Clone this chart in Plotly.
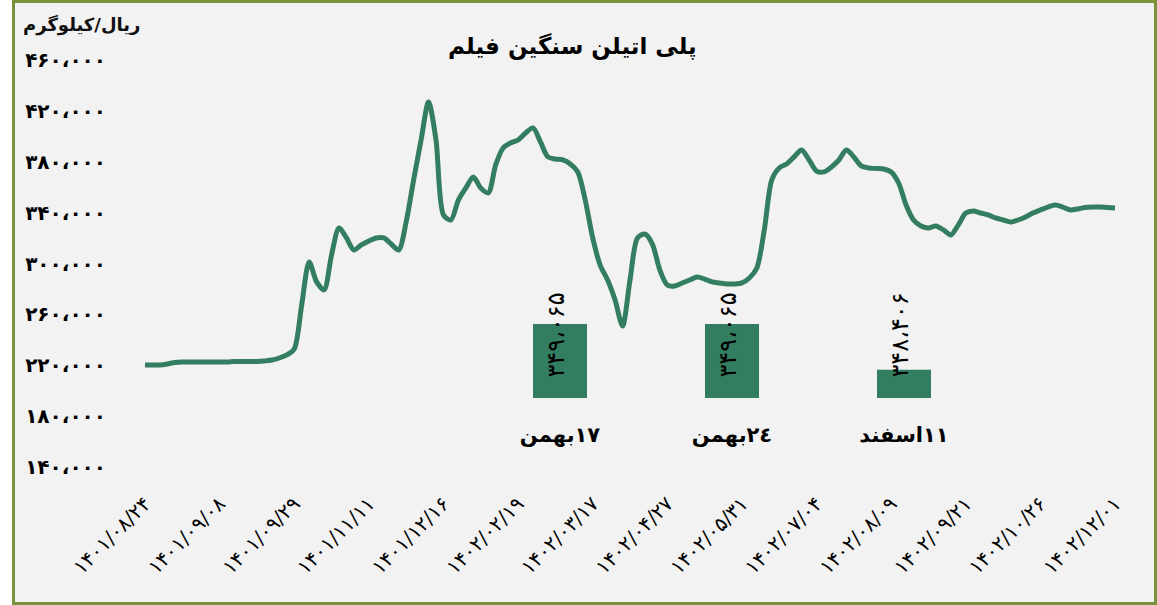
import plotly.graph_objects as go

# ---------------- data ----------------
price = [
    220200, 220200, 220200, 221000, 222200, 222600, 222600, 222600, 222600, 222600,
    222600, 222600, 223000, 223000, 223000, 223000, 223400, 224100, 225700, 228100,
    232800, 267400, 301200, 285500, 279200, 306700, 327900, 320100, 310600, 314600,
    317700, 320100, 320100, 315300, 310600, 332600, 365700, 397100, 427000, 397100,
    338200, 334200, 349900, 359400, 368000, 359400, 355500, 377500, 390800, 394800,
    397100, 402600, 406600, 395600, 383800, 382200, 381400, 378300, 372000, 349900,
    320100, 298800, 287000, 271300, 250900, 287000, 320100, 323200, 315300, 294900,
    283100, 282300, 284700, 287000, 289400, 287800, 285500, 284700, 283900, 283900,
    284700, 288600, 296500, 326400, 365700, 375100, 378300, 383800, 389300, 381400,
    372700, 372000, 375900, 381400, 389300, 383800, 376700, 375100, 374700, 374300,
    372000, 363300, 346000, 334200, 329500, 327900, 329500, 326400, 322400, 330300,
    339700, 341300, 339700, 338200, 335800, 334200, 332600, 334200, 336600, 339700,
    342100, 344400, 346000, 344400, 342100, 342900, 344000, 344400, 344400, 344000,
    343700,
]
point_index = list(range(len(price)))

date_labels = [
    "۱۴۰۱/۰۸/۲۴", "۱۴۰۱/۰۹/۰۸", "۱۴۰۱/۰۹/۲۹", "۱۴۰۱/۱۱/۱۱", "۱۴۰۱/۱۲/۱۶",
    "۱۴۰۲/۰۲/۱۹", "۱۴۰۲/۰۳/۱۷", "۱۴۰۲/۰۴/۲۷", "۱۴۰۲/۰۵/۳۱", "۱۴۰۲/۰۷/۰۴",
    "۱۴۰۲/۰۸/۰۹", "۱۴۰۲/۰۹/۲۱", "۱۴۰۲/۱۰/۲۶", "۱۴۰۲/۱۲/۰۱",
]
date_label_index = [0, 10, 20, 30, 40, 50, 60, 70, 80, 90, 100, 110, 120, 130]

y_tick_values = [140000, 180000, 220000, 260000, 300000, 340000, 380000, 420000, 460000]
y_tick_text = ["۱۴۰،۰۰۰", "۱۸۰،۰۰۰", "۲۲۰،۰۰۰", "۲۶۰،۰۰۰", "۳۰۰،۰۰۰",
               "۳۴۰،۰۰۰", "۳۸۰،۰۰۰", "۴۲۰،۰۰۰", "۴۶۰،۰۰۰"]

bar_categories = ["۱۷بهمن", "٢٤بهمن", "۱۱اسفند"]
bar_values = [349065, 349065, 348406]

title_text = "پلی اتیلن سنگین فیلم"
unit_text = "ریال/کیلوگرم"

# ---------------- helpers ----------------
FA = str.maketrans("0123456789", "۰۱۲۳۴۵۶۷۸۹")


def fa_num(v):
    return f"{v:,}".replace(",", "،").translate(FA)


RLM = "\u200f"
GREEN = "#337D60"
FRAME = "#77933C"
FONT = "DejaVu Sans"

W, H = 1157, 605
ML, MR, MT, MB = 115, 12, 60, 138
PW, PH = W - ML - MR, H - MT - MB


def px_x(p):
    return (p - ML) / PW


def px_y(p):
    return (H - MB - p) / PH


fig = go.Figure()

fig.add_trace(go.Scatter(
    x=point_index, y=price, mode="lines",
    line=dict(color=GREEN, width=5, shape="spline", smoothing=0.8),
    hoverinfo="skip", showlegend=False,
))

fig.add_trace(go.Bar(
    x=[RLM + c for c in bar_categories], y=bar_values,
    marker=dict(color=GREEN, line=dict(width=0)),
    width=0.314, xaxis="x2", yaxis="y2",
    hoverinfo="skip", showlegend=False,
))

annotations = []
for c, v in zip(bar_categories, bar_values):
    annotations.append(dict(
        x=RLM + c, y=0.6, xref="x2", yref="y2 domain",
        text=fa_num(v), textangle=-90, showarrow=False,
        font=dict(family=FONT, size=24, color="black"),
        xanchor="center", yanchor="middle", xshift=-4,
    ))

annotations.append(dict(
    x=px_x(21), y=px_y(25), xref="paper", yref="paper",
    text="<b>" + unit_text + "</b>", showarrow=False,
    xanchor="left", yanchor="middle",
    font=dict(family=FONT, size=18, color="#111"),
))

annotations.append(dict(
    x=px_x(572), y=px_y(47), xref="paper", yref="paper",
    text="<b>" + title_text + "</b>", showarrow=False,
    xanchor="center", yanchor="middle",
    font=dict(family=FONT, size=23, color="black"),
))

fig.update_layout(
    width=W, height=H,
    margin=dict(l=ML, r=MR, t=MT, b=MB),
    paper_bgcolor="white",
    plot_bgcolor="rgba(0,0,0,0)",
    font=dict(family=FONT, color="black"),
    showlegend=False,
    annotations=annotations,
    shapes=[dict(
        type="rect", xref="paper", yref="paper", layer="below",
        x0=px_x(13.5), x1=px_x(1155.5), y0=px_y(603.5), y1=px_y(1.5),
        line=dict(color=FRAME, width=3), fillcolor="#F2F2F2",
    )],
    xaxis=dict(
        range=[-(145 - ML) / (970 / 130), 130 + (ML + PW - 1115) / (970 / 130)],
        tickmode="array", tickvals=date_label_index, ticktext=date_labels,
        tickangle=-45, ticks="", showgrid=False, zeroline=False, showline=False,
        tickfont=dict(family=FONT, size=20, color="black"),
        ticklabelstandoff=20,
    ),
    yaxis=dict(
        range=[140000, 460000],
        tickmode="array", tickvals=y_tick_values, ticktext=y_tick_text,
        ticks="", showgrid=False, zeroline=False, showline=False,
        tickfont=dict(family=FONT, size=20, color="black", weight="bold"),
        ticklabelstandoff=8,
    ),
    xaxis2=dict(
        domain=[px_x(474), px_x(990)], anchor="y2",
        type="category", ticks="", showgrid=False, zeroline=False, showline=False,
        tickfont=dict(family=FONT, size=21, color="black", weight="bold"),
        ticklabelstandoff=22,
    ),
    yaxis2=dict(
        domain=[px_y(398), px_y(398 - 1500 * 0.0694)], anchor="x2",
        range=[348000, 349500], visible=False,
    ),
)

fig.write_html("out.html", config={"displayModeBar": False})
